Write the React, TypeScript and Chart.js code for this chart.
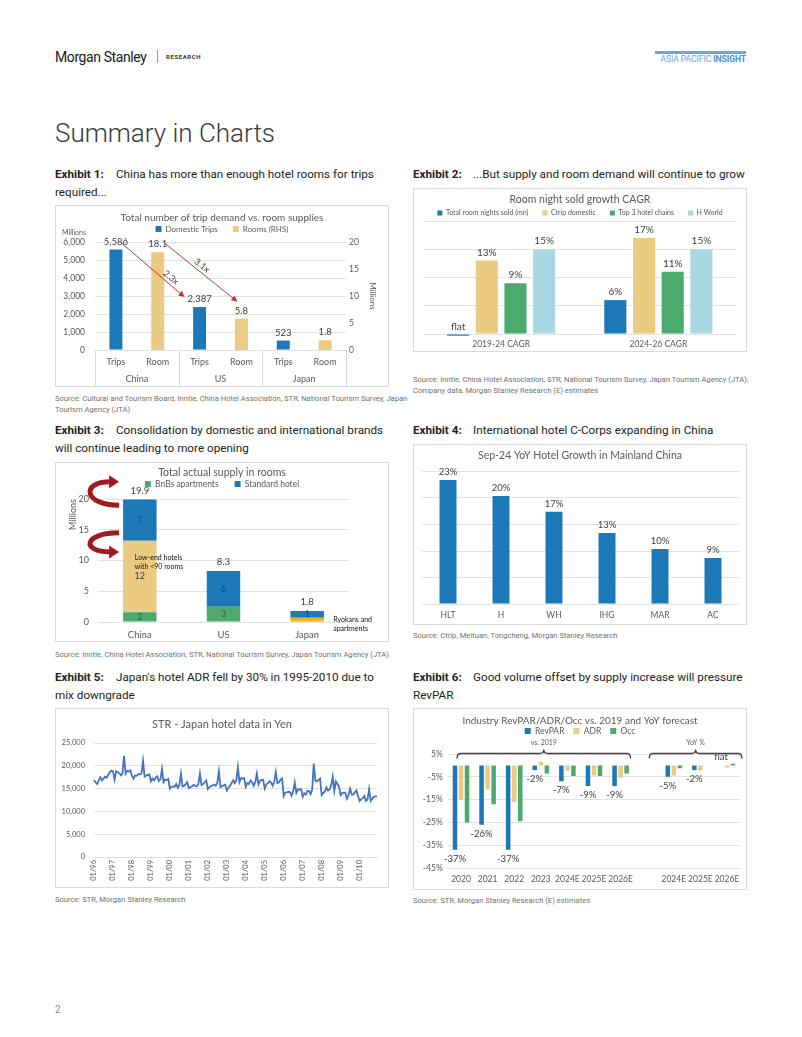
import React, { useEffect, useRef } from 'react';
import { Chart, registerables } from 'chart.js';

Chart.register(...registerables);

const CHART_FONT = 'Lato, "Open Sans", "DejaVu Sans", sans-serif';
const PAGE_FONT = 'Roboto, "Noto Sans", "DejaVu Sans", sans-serif';
Chart.defaults.font.family = CHART_FONT;
Chart.defaults.color = '#595959';

const BLUE = '#1C78B6';
const TAN = '#EBCB82';
const GREEN = '#4BAA6C';
const LIGHT_BLUE = '#A8D8E3';
const ORANGE = '#F3B51C';
const LINE_BLUE = '#4472C4';
const GRID = '#E2E2E2';
const AXIS_TEXT = '#595959';
const LABEL_TEXT = '#404040';
const ARROW_RED = '#C0392B';
const CURVE_RED = '#9E1B1F';

// ---------------- Exhibit 1 ----------------
const ex1Groups = ['China', 'US', 'Japan'];
const ex1Categories = ['Trips', 'Room', 'Trips', 'Room', 'Trips', 'Room'];
const ex1Trips = [5586, null, 2387, null, 523, null];
const ex1Rooms = [null, 18.1, null, 5.8, null, 1.8];
const ex1Multiples = ['2.3x', '3.1x'];

// ---------------- Exhibit 2 ----------------
const ex2Periods = ['2019-24 CAGR', '2024-26 CAGR'];
const ex2TotalNights = [-0.3, 6];
const ex2Ctrip = [13, 17];
const ex2Top3 = [9, 11];
const ex2HWorld = [15, 15];

// ---------------- Exhibit 3 ----------------
const ex3Countries = ['China', 'US', 'Japan'];
const ex3Bnbs = [1.6, 2.5, 0];
const ex3LowEnd = [11.6, 0, 0];
const ex3Ryokans = [0, 0, 0.7];
const ex3Standard = [6.7, 5.8, 1.1];

// ---------------- Exhibit 4 ----------------
const ex4Brands = ['HLT', 'H', 'WH', 'IHG', 'MAR', 'AC'];
const ex4Growth = [23.4, 20.4, 17.4, 13.4, 10.4, 8.7];

// ---------------- Exhibit 5 ----------------
const ex5Years = ['96', '97', '98', '99', '00', '01', '02', '03', '04', '05', '06', '07', '08', '09', '10'];
const ex5Months = ['01', '02', '03', '04', '05', '06', '07', '08', '09', '10', '11', '12'];
const ex5Labels = ex5Years.flatMap((y) => ex5Months.map((m) => `${m}/${y}`));
const ex5Adr = [
  16900, 16400, 16000, 16800, 17500, 16800, 17200, 17600, 17400, 18000, 18600, 18900,
  18800, 17000, 18800, 18600, 18400, 17900, 18300, 22200, 18300, 18900, 18700, 19000,
  17800, 17200, 17900, 17800, 18200, 18100, 18300, 21100, 17600, 17800, 18000, 18100,
  16600, 17200, 16800, 17400, 17700, 16600, 17000, 19300, 16400, 17000, 16900, 17100,
  15000, 15400, 15500, 15400, 16000, 15200, 15800, 18300, 15500, 15600, 16000, 16400,
  15100, 15300, 15500, 15800, 15600, 15500, 16000, 18300, 15800, 16000, 16400, 16800,
  14900, 15300, 15500, 15700, 15900, 15600, 16300, 18800, 15300, 15600, 15700, 15900,
  14600, 15200, 15600, 16200, 16800, 16200, 16800, 19700, 16400, 17300, 17200, 17300,
  15400, 16200, 16000, 16800, 16400, 15600, 16400, 18300, 15900, 16700, 16900, 16900,
  15000, 15900, 16200, 16600, 16300, 15600, 16500, 18600, 16200, 16400, 17000, 17200,
  13400, 14100, 14200, 14300, 14200, 13400, 14400, 16300, 14100, 14800, 14800, 14900,
  13200, 14000, 13700, 14500, 14500, 13800, 14800, 20500, 16700, 16600, 16900, 17200,
  13600, 14100, 14300, 15300, 14600, 14800, 15600, 17600, 14500, 16600, 16000, 15400,
  13600, 14000, 14100, 14100, 12800, 13600, 15000, 13700, 13700, 14200, 14600, 13300,
  12300, 12700, 12900, 13400, 12300, 12600, 14900, 12300, 12800, 13200, 13300, 13300,
];

// ---------------- Exhibit 6 ----------------
const ex6Categories = ['2020', '2021', '2022', '2023', '2024E', '2025E', '2026E', '', '2024E', '2025E', '2026E'];
const ex6RevPar = [-37, -26, -37, -2, -7, -9, -9, null, -5, -2, 0];
const ex6Adr = [-15, -10.5, -16, 1.6, -2.3, -4.4, -5.4, null, -4.4, -2.2, -0.9];
const ex6Occ = [-25, -17, -24.5, -3.5, -4.7, -4.7, -3.5, null, -1.3, null, 0.7];
const ex6Brackets = ['vs. 2019', 'YoY %'];

// ---------------- helpers ----------------
const spacerX = (h: number) => ({
  type: 'category', position: 'top', display: true,
  grid: { display: false, drawTicks: false }, border: { display: false },
  ticks: { display: false }, afterFit: (s: any) => { s.height = h; },
});
const spacerY = (w: number) => ({
  type: 'linear', position: 'right', display: true,
  grid: { display: false, drawTicks: false }, border: { display: false },
  ticks: { display: false }, afterFit: (s: any) => { s.width = w; },
});
const font = (size: number, weight = 'normal') => `${weight} ${size}px ${CHART_FONT}`;

function titleOpts(text: string, size: number, center: number, height: number) {
  const lh = size * 1.2;
  const top = center - lh / 2;
  return {
    display: true, text, color: AXIS_TEXT,
    font: { size, weight: 'normal', lineHeight: 1.2 },
    padding: { top, bottom: height - lh - top },
  };
}
function legendOpts(size: number, box: number, pad: number, extra: any = {}) {
  const itemH = Math.max(size, box);
  return {
    display: true, position: 'top', maxHeight: itemH + pad,
    labels: { font: { size }, color: AXIS_TEXT, boxWidth: box, boxHeight: box, padding: pad, ...extra },
  };
}
const catAxis = (size: number, pad: number, h: number, extra: any = {}) => ({
  grid: { display: false, drawTicks: false }, border: { display: false },
  ticks: { font: { size }, color: AXIS_TEXT, padding: pad },
  afterFit: (s: any) => { s.height = h; },
  ...extra,
});

// ---------------- Exhibit 1 config ----------------
function ex1Config(): any {
  const plugin = {
    id: 'ex1Extras',
    afterDraw(chart: any) {
      const { ctx, chartArea: a, scales } = chart;
      const x = scales.x, yL = scales.y, yR = scales.yR;
      ctx.save();
      ctx.font = font(9.5);
      ctx.fillStyle = LABEL_TEXT;
      ctx.textAlign = 'center';
      ctx.textBaseline = 'middle';
      chart.data.datasets.forEach((ds: any, di: number) => {
        chart.getDatasetMeta(di).data.forEach((el: any, i: number) => {
          const v = ds.data[i];
          if (v == null) return;
          const t = di === 0 ? v.toLocaleString('en-US') : v.toFixed(1);
          ctx.fillText(t, el.x, el.y - 8);
        });
      });
      ctx.font = font(7);
      ctx.fillStyle = AXIS_TEXT;
      ctx.textAlign = 'left';
      ctx.fillText('Millions', 7, a.top - 9);
      ctx.strokeStyle = '#D9D9D9';
      ctx.lineWidth = 1;
      const step = x.getPixelForValue(1) - x.getPixelForValue(0);
      const seps = [a.left, x.getPixelForValue(1) + step / 2, x.getPixelForValue(3) + step / 2, a.right];
      seps.forEach((px: number) => {
        const p = Math.round(px) + 0.5;
        ctx.beginPath(); ctx.moveTo(p, a.bottom); ctx.lineTo(p, chart.height); ctx.stroke();
      });
      ctx.font = font(9);
      ctx.textAlign = 'center';
      ex1Groups.forEach((g, gi) => {
        const cx = (x.getPixelForValue(gi * 2) + x.getPixelForValue(gi * 2 + 1)) / 2;
        ctx.fillText(g, cx, a.bottom + 29);
      });
      const arrows = [
        { s: [x.getPixelForValue(0) + 6, yL.getPixelForValue(ex1Trips[0]) - 6], e: [x.getPixelForValue(2) - 15, yL.getPixelForValue(ex1Trips[2]) - 10], t: 0.72 },
        { s: [x.getPixelForValue(1) + 7, yR.getPixelForValue(ex1Rooms[1]) - 9], e: [x.getPixelForValue(3) - 4, yR.getPixelForValue(ex1Rooms[3]) - 17], t: 0.46 },
      ];
      arrows.forEach((ar, k) => {
        const [x1, y1] = ar.s; const [x2, y2] = ar.e;
        const ang = Math.atan2(y2 - y1, x2 - x1);
        ctx.strokeStyle = ARROW_RED; ctx.fillStyle = ARROW_RED; ctx.lineWidth = 1;
        ctx.beginPath(); ctx.moveTo(x1, y1); ctx.lineTo(x2 - 4 * Math.cos(ang), y2 - 4 * Math.sin(ang)); ctx.stroke();
        ctx.beginPath();
        ctx.moveTo(x2, y2);
        ctx.lineTo(x2 - 6 * Math.cos(ang) + 3 * Math.sin(ang), y2 - 6 * Math.sin(ang) - 3 * Math.cos(ang));
        ctx.lineTo(x2 - 6 * Math.cos(ang) - 3 * Math.sin(ang), y2 - 6 * Math.sin(ang) + 3 * Math.cos(ang));
        ctx.closePath(); ctx.fill();
        const px = x1 + (x2 - x1) * ar.t + 6 * Math.sin(ang);
        const py = y1 + (y2 - y1) * ar.t - 6 * Math.cos(ang);
        ctx.save();
        ctx.translate(px, py); ctx.rotate(ang);
        ctx.font = font(9); ctx.fillStyle = LABEL_TEXT; ctx.textAlign = 'center'; ctx.textBaseline = 'middle';
        ctx.fillText(ex1Multiples[k], 0, 0);
        ctx.restore();
      });
      ctx.restore();
    },
  };
  return {
    type: 'bar',
    data: {
      labels: ex1Categories,
      datasets: [
        { label: 'Domestic Trips', data: ex1Trips, backgroundColor: BLUE, yAxisID: 'y', skipNull: true, categoryPercentage: 1, barPercentage: 0.31 },
        { label: 'Rooms (RHS)', data: ex1Rooms, backgroundColor: TAN, yAxisID: 'yR', skipNull: true, categoryPercentage: 1, barPercentage: 0.31 },
      ],
    },
    options: {
      responsive: false, animation: false, devicePixelRatio: 1,
      plugins: {
        title: titleOpts('Total number of trip demand vs. room supplies', 10, 13, 5),
        legend: legendOpts(8, 6, 15),
        tooltip: { enabled: false },
      },
      scales: {
        x: catAxis(9, 7, 37),
        y: {
          position: 'left', min: 0, max: 6000,
          ticks: { stepSize: 1000, font: { size: 8.5 }, color: AXIS_TEXT, padding: 10, callback: (v: any) => Number(v).toLocaleString('en-US') },
          grid: { color: GRID, drawTicks: false }, border: { display: false },
          afterFit: (s: any) => { s.width = 40; },
        },
        yR: {
          position: 'right', min: 0, max: 20,
          ticks: { stepSize: 5, font: { size: 8.5 }, color: AXIS_TEXT, padding: 3 },
          grid: { display: false, drawTicks: false }, border: { display: false },
          title: { display: true, text: 'Millions', font: { size: 8 }, color: AXIS_TEXT, padding: { top: 12, bottom: 0 } },
          afterFit: (s: any) => { s.width = 43; },
        },
        xTop: spacerX(9),
      },
    },
    plugins: [plugin],
  };
}

// ---------------- Exhibit 2 config ----------------
function ex2Config(): any {
  const plugin = {
    id: 'ex2Labels',
    afterDatasetsDraw(chart: any) {
      const { ctx } = chart;
      ctx.save();
      ctx.font = font(10);
      ctx.fillStyle = LABEL_TEXT;
      ctx.textAlign = 'center';
      ctx.textBaseline = 'middle';
      chart.data.datasets.forEach((ds: any, di: number) => {
        chart.getDatasetMeta(di).data.forEach((el: any, i: number) => {
          const v = ds.data[i];
          const t = Math.abs(v) < 1 ? 'flat' : `${v}%`;
          ctx.fillText(t, el.x, Math.min(el.y, el.base) - 8);
        });
      });
      ctx.restore();
    },
  };
  const common = { categoryPercentage: 0.73, barPercentage: 0.77 };
  return {
    type: 'bar',
    data: {
      labels: ex2Periods,
      datasets: [
        { label: 'Total room nights sold (mn)', data: ex2TotalNights, backgroundColor: BLUE, clip: false, ...common },
        { label: 'Ctrip domestic', data: ex2Ctrip, backgroundColor: TAN, ...common },
        { label: 'Top 3 hotel chains', data: ex2Top3, backgroundColor: GREEN, ...common },
        { label: 'H World', data: ex2HWorld, backgroundColor: LIGHT_BLUE, ...common },
      ],
    },
    options: {
      responsive: false, animation: false, devicePixelRatio: 1,
      plugins: {
        title: titleOpts('Room night sold growth CAGR', 10.5, 12, 7.5),
        legend: legendOpts(7, 5, 14),
        tooltip: { enabled: false },
      },
      scales: {
        x: catAxis(8.5, 5, 18),
        y: {
          min: 0, max: 20, ticks: { stepSize: 5, display: false },
          grid: { color: GRID, drawTicks: false }, border: { display: false },
          afterFit: (s: any) => { s.width = 9.5; },
        },
        yR: spacerY(10),
        xTop: spacerX(4.5),
      },
    },
    plugins: [plugin],
  };
}

// ---------------- Exhibit 3 config ----------------
function ex3Config(): any {
  const plugin = {
    id: 'ex3Extras',
    afterDraw(chart: any) {
      const { ctx, scales } = chart;
      const y = scales.y;
      ctx.save();
      ctx.textAlign = 'center';
      ctx.textBaseline = 'middle';
      ctx.font = font(9);
      const segColors = ['#2E5E3C', '#404040', '', '#23486B'];
      chart.data.datasets.forEach((ds: any, di: number) => {
        if (di === 2) return;
        chart.getDatasetMeta(di).data.forEach((el: any, i: number) => {
          const v = ds.data[i];
          if (!v) return;
          ctx.fillStyle = segColors[di];
          ctx.fillText(String(Math.round(v)), el.x, (el.y + el.base) / 2);
        });
      });
      ctx.font = font(9.5);
      ctx.fillStyle = LABEL_TEXT;
      const meta = chart.getDatasetMeta(0);
      ex3Countries.forEach((_, i) => {
        const sum = ex3Bnbs[i] + ex3LowEnd[i] + ex3Ryokans[i] + ex3Standard[i];
        ctx.fillText(sum.toFixed(1), meta.data[i].x, y.getPixelForValue(sum) - 9);
      });
      ctx.font = font(7);
      ctx.fillStyle = '#111';
      ctx.textAlign = 'left';
      const c0 = meta.data[0];
      const lx = c0.x - 5;
      ctx.fillText('Low-end hotels', lx, y.getPixelForValue(10.5));
      ctx.fillText('with <90 rooms', lx, y.getPixelForValue(10.5) + 9.5);
      const c2 = meta.data[2];
      ctx.fillText('Ryokans and', c2.x + 26, y.getPixelForValue(0.3));
      ctx.fillText('apartments', c2.x + 26, y.getPixelForValue(0.3) + 9);
      const barLeft = c0.x - c0.width / 2;
      const curved = (xs: number, ys: number, xe: number, ye: number) => {
        ctx.strokeStyle = CURVE_RED; ctx.fillStyle = CURVE_RED; ctx.lineWidth = 5;
        ctx.beginPath(); ctx.moveTo(xs, ys);
        ctx.bezierCurveTo(xs - 36, ys, xe - 36, ye, xe - 7, ye);
        ctx.stroke();
        ctx.beginPath();
        ctx.moveTo(xe + 2, ye); ctx.lineTo(xe - 8, ye - 6.5); ctx.lineTo(xe - 8, ye + 6.5);
        ctx.closePath(); ctx.fill();
      };
      curved(barLeft - 4, y.getPixelForValue(19), barLeft - 6, y.getPixelForValue(22.8));
      curved(barLeft - 4, y.getPixelForValue(14.5), barLeft - 6, y.getPixelForValue(11.4));
      ctx.restore();
    },
  };
  const common = { categoryPercentage: 1, barPercentage: 0.4 };
  return {
    type: 'bar',
    data: {
      labels: ex3Countries,
      datasets: [
        { label: 'BnBs apartments', data: ex3Bnbs, backgroundColor: GREEN, ...common },
        { label: 'Low-end hotels', data: ex3LowEnd, backgroundColor: TAN, ...common },
        { label: 'Ryokans and apartments', data: ex3Ryokans, backgroundColor: ORANGE, ...common },
        { label: 'Standard hotel', data: ex3Standard, backgroundColor: BLUE, ...common },
      ],
    },
    options: {
      responsive: false, animation: false, devicePixelRatio: 1,
      plugins: {
        title: titleOpts('Total actual supply in rooms', 10.5, 11, 1.75),
        legend: legendOpts(8.5, 6, 16, { filter: (it: any) => it.datasetIndex === 0 || it.datasetIndex === 3 }),
        tooltip: { enabled: false },
      },
      scales: {
        x: catAxis(9.5, 7, 20, { stacked: true }),
        y: {
          stacked: true, min: 0, max: 20,
          ticks: { stepSize: 5, font: { size: 9 }, color: AXIS_TEXT, padding: 9 },
          grid: { color: GRID, drawTicks: false }, border: { display: false },
          title: { display: true, text: 'Millions', align: 'end', font: { size: 9 }, color: AXIS_TEXT, padding: { top: 12.6, bottom: 0 } },
          afterFit: (s: any) => { s.width = 43; },
        },
        yR: spacerY(40),
        xTop: spacerX(10.75),
      },
    },
    plugins: [plugin],
  };
}

// ---------------- Exhibit 4 config ----------------
function ex4Config(): any {
  const plugin = {
    id: 'ex4Labels',
    afterDatasetsDraw(chart: any) {
      const { ctx } = chart;
      ctx.save();
      ctx.font = font(9.5);
      ctx.fillStyle = LABEL_TEXT;
      ctx.textAlign = 'center';
      ctx.textBaseline = 'middle';
      chart.getDatasetMeta(0).data.forEach((el: any, i: number) => {
        ctx.fillText(`${Math.round(ex4Growth[i])}%`, el.x, el.y - 8);
      });
      ctx.restore();
    },
  };
  return {
    type: 'bar',
    data: {
      labels: ex4Brands,
      datasets: [{ label: 'YoY growth', data: ex4Growth, backgroundColor: BLUE, categoryPercentage: 1, barPercentage: 0.32 }],
    },
    options: {
      responsive: false, animation: false, devicePixelRatio: 1,
      plugins: {
        title: titleOpts('Sep-24 YoY Hotel Growth in Mainland China', 10.5, 12, 27.5),
        legend: { display: false },
        tooltip: { enabled: false },
      },
      scales: {
        x: catAxis(8.5, 6, 21),
        y: {
          min: 0, max: 25, ticks: { stepSize: 5, display: false },
          grid: { color: GRID, drawTicks: false }, border: { display: false },
          afterFit: (s: any) => { s.width = 8.5; },
        },
        yR: spacerY(7.5),
      },
    },
    plugins: [plugin],
  };
}

// ---------------- Exhibit 5 config ----------------
function ex5Config(): any {
  return {
    type: 'line',
    data: {
      labels: ex5Labels,
      datasets: [{ label: 'ADR (JPY)', data: ex5Adr, borderColor: LINE_BLUE, borderWidth: 1.8, pointRadius: 0, tension: 0, fill: false }],
    },
    options: {
      responsive: false, animation: false, devicePixelRatio: 1,
      plugins: {
        title: titleOpts('STR - Japan hotel data in Yen', 11, 16, 35),
        legend: { display: false },
        tooltip: { enabled: false },
      },
      scales: {
        x: {
          grid: { display: false, drawTicks: false }, border: { display: true, color: '#D9D9D9' },
          ticks: {
            autoSkip: false, maxRotation: 90, minRotation: 90, font: { size: 7.5 }, color: AXIS_TEXT, padding: 3,
            callback: (_v: any, i: number) => (ex5Labels[i].startsWith('01/') ? ex5Labels[i] : ''),
          },
          afterFit: (s: any) => { s.height = 31; },
        },
        y: {
          min: 0, max: 25000,
          ticks: { stepSize: 5000, font: { size: 7.5 }, color: AXIS_TEXT, padding: 9, callback: (v: any) => Number(v).toLocaleString('en-US') },
          grid: { color: GRID, drawTicks: false }, border: { display: false },
          afterFit: (s: any) => { s.width = 39; },
        },
        yR: spacerY(11),
      },
    },
  };
}

// ---------------- Exhibit 6 config ----------------
function ex6Config(): any {
  const plugin = {
    id: 'ex6Extras',
    afterDraw(chart: any) {
      const { ctx, chartArea: a, scales } = chart;
      const x = scales.x;
      ctx.save();
      ctx.font = font(9.5);
      ctx.fillStyle = LABEL_TEXT;
      ctx.textAlign = 'center';
      ctx.textBaseline = 'middle';
      chart.getDatasetMeta(0).data.forEach((el: any, i: number) => {
        const v = ex6RevPar[i];
        if (v == null) return;
        if (v === 0) ctx.fillText('flat', el.x, el.base - 8);
        else ctx.fillText(`${v}%`, el.x, el.y + 9);
      });
      const yb = a.top - 0.5;
      const spans = [
        [x.getPixelForValue(0) - 4, x.getPixelForValue(6) + 10],
        [x.getPixelForValue(7) + 2, x.getPixelForValue(10) + 15],
      ];
      ctx.strokeStyle = '#404040';
      ctx.lineWidth = 1.3;
      spans.forEach(([x1, x2], k) => {
        const xm = (x1 + x2) / 2;
        ctx.beginPath();
        ctx.moveTo(x1, yb + 5);
        ctx.quadraticCurveTo(x1, yb, x1 + 4, yb);
        ctx.lineTo(xm - 4, yb);
        ctx.quadraticCurveTo(xm, yb, xm, yb - 4);
        ctx.quadraticCurveTo(xm, yb, xm + 4, yb);
        ctx.lineTo(x2 - 4, yb);
        ctx.quadraticCurveTo(x2, yb, x2, yb + 5);
        ctx.stroke();
        ctx.font = font(7);
        ctx.fillStyle = AXIS_TEXT;
        ctx.fillText(ex6Brackets[k], xm, yb - 11);
      });
      ctx.restore();
    },
  };
  const common = { categoryPercentage: 0.68, barPercentage: 0.75 };
  return {
    type: 'bar',
    data: {
      labels: ex6Categories,
      datasets: [
        { label: 'RevPAR', data: ex6RevPar, backgroundColor: BLUE, ...common },
        { label: 'ADR', data: ex6Adr, backgroundColor: TAN, ...common },
        { label: 'Occ', data: ex6Occ, backgroundColor: GREEN, ...common },
      ],
    },
    options: {
      responsive: false, animation: false, devicePixelRatio: 1,
      plugins: {
        title: titleOpts('Industry RevPAR/ADR/Occ vs. 2019 and YoY forecast', 10, 13, 9.75),
        legend: legendOpts(8.5, 6, 9),
        tooltip: { enabled: false },
      },
      scales: {
        x: catAxis(8, 6, 22, { ticks: { font: { size: 8.5 }, color: AXIS_TEXT, padding: 6, autoSkip: false, maxRotation: 0 } }),
        y: {
          min: -45, max: 5,
          ticks: { stepSize: 10, font: { size: 8.5 }, color: AXIS_TEXT, padding: 5, callback: (v: any) => `${v}%` },
          grid: { color: GRID, drawTicks: false }, border: { display: false },
          afterFit: (s: any) => { s.width = 34.7; },
        },
        yR: spacerY(6.7),
        xTop: spacerX(18.75),
      },
    },
    plugins: [plugin],
  };
}

// ---------------- components ----------------
function ChartBox({ left, top, width, height, make }: any) {
  const ref = useRef<HTMLCanvasElement>(null);
  useEffect(() => {
    const chart = new Chart(ref.current as HTMLCanvasElement, make());
    return () => chart.destroy();
  }, []);
  return (
    <>
      <div style={{ position: 'absolute', left, top, width, height, border: '1px solid #D9D9D9', boxSizing: 'border-box' }} />
      <canvas ref={ref} width={width} height={height} style={{ position: 'absolute', left, top, width, height }} />
    </>
  );
}

function ExhibitTitle({ left, top, num, lines, labelWidth = 61 }: any) {
  return (
    <div style={{ position: 'absolute', left, top, fontSize: 11.7, lineHeight: '18px', whiteSpace: 'nowrap', color: '#222' }}>
      {lines.map((ln: string, i: number) => (
        <div key={i}>
          {i === 0 && <span style={{ display: 'inline-block', width: labelWidth, fontWeight: 700 }}>{`Exhibit ${num}:`}</span>}
          {ln}
        </div>
      ))}
    </div>
  );
}

function Source({ left, top, lines }: any) {
  return (
    <div style={{ position: 'absolute', left, top, fontSize: 7.6, lineHeight: '10.5px', color: '#707070', whiteSpace: 'nowrap' }}>
      {lines.map((l: string, i: number) => <div key={i}>{l}</div>)}
    </div>
  );
}

export default function App() {
  return (
    <div style={{ position: 'absolute', left: 0, top: 0, width: 802, height: 1037, background: '#fff', overflow: 'hidden', fontFamily: PAGE_FONT, color: '#222' }}>
      <div style={{ position: 'absolute', left: 55, top: 49, fontSize: 14, lineHeight: '16px', letterSpacing: -0.4, color: '#1a1a1a', whiteSpace: 'nowrap' }}>Morgan Stanley</div>
      <div style={{ position: 'absolute', left: 157, top: 50, width: 1, height: 13, background: '#999' }} />
      <div style={{ position: 'absolute', left: 166, top: 53, fontSize: 6, lineHeight: '8px', fontWeight: 700, letterSpacing: 0.6, color: '#333' }}>RESEARCH</div>
      <div style={{ position: 'absolute', left: 655, top: 51, width: 91, height: 3, background: '#6AA6DB' }} />
      <div style={{ position: 'absolute', right: 56, top: 54, fontSize: 8.6, lineHeight: '11px', color: '#6AA6DB', whiteSpace: 'nowrap', letterSpacing: -0.1 }}>
        ASIA PACIFIC <span style={{ fontWeight: 700, color: '#4A8FD3' }}>INSIGHT</span>
      </div>
      <div style={{ position: 'absolute', left: 55, top: 118, fontSize: 26, lineHeight: '30px', fontWeight: 300, color: '#3a3a3a', whiteSpace: 'nowrap' }}>Summary in Charts</div>

      <ExhibitTitle left={55} top={165} num={1} lines={['China has more than enough hotel rooms for trips', 'required...']} />
      <ChartBox left={55} top={205} width={334} height={182} make={ex1Config} />
      <Source left={55} top={394} lines={['Source: Cultural and Tourism Board, Inntie, China Hotel Association, STR, National Tourism Survey, Japan', 'Tourism Agency (JTA)']} />

      <ExhibitTitle left={413} top={165} num={2} labelWidth={60} lines={['...But supply and room demand will continue to grow']} />
      <ChartBox left={413} top={188} width={334} height={164} make={ex2Config} />
      <Source left={413} top={375} lines={['Source: Inntie, China Hotel Association, STR, National Tourism Survey, Japan Tourism Agency (JTA),', 'Company data, Morgan Stanley Research (E) estimates']} />

      <ExhibitTitle left={55} top={421} num={3} lines={['Consolidation by domestic and international brands', 'will continue leading to more opening']} />
      <ChartBox left={55} top={462} width={334} height={180} make={ex3Config} />
      <Source left={55} top={650} lines={['Source: Inntie, China Hotel Association, STR, National Tourism Survey, Japan Tourism Agency (JTA)']} />

      <ExhibitTitle left={413} top={421} num={4} labelWidth={60} lines={['International hotel C-Corps expanding in China']} />
      <ChartBox left={413} top={444} width={334} height={181} make={ex4Config} />
      <Source left={413} top={631} lines={['Source: Ctrip, Meituan, Tongcheng, Morgan Stanley Research']} />

      <ExhibitTitle left={55} top={668} num={5} lines={["Japan's hotel ADR fell by 30% in 1995-2010 due to", 'mix downgrade']} />
      <ChartBox left={55} top={708} width={334} height={180} make={ex5Config} />
      <Source left={55} top={895} lines={['Source: STR, Morgan Stanley Research']} />

      <ExhibitTitle left={413} top={668} num={6} labelWidth={60} lines={['Good volume offset by supply increase will pressure', 'RevPAR']} />
      <ChartBox left={413} top={708} width={334} height={182} make={ex6Config} />
      <Source left={413} top={896} lines={['Source: STR, Morgan Stanley Research (E) estimates']} />

      <div style={{ position: 'absolute', left: 55, top: 1003, fontSize: 10, lineHeight: '14px', color: '#888' }}>2</div>
    </div>
  );
}
